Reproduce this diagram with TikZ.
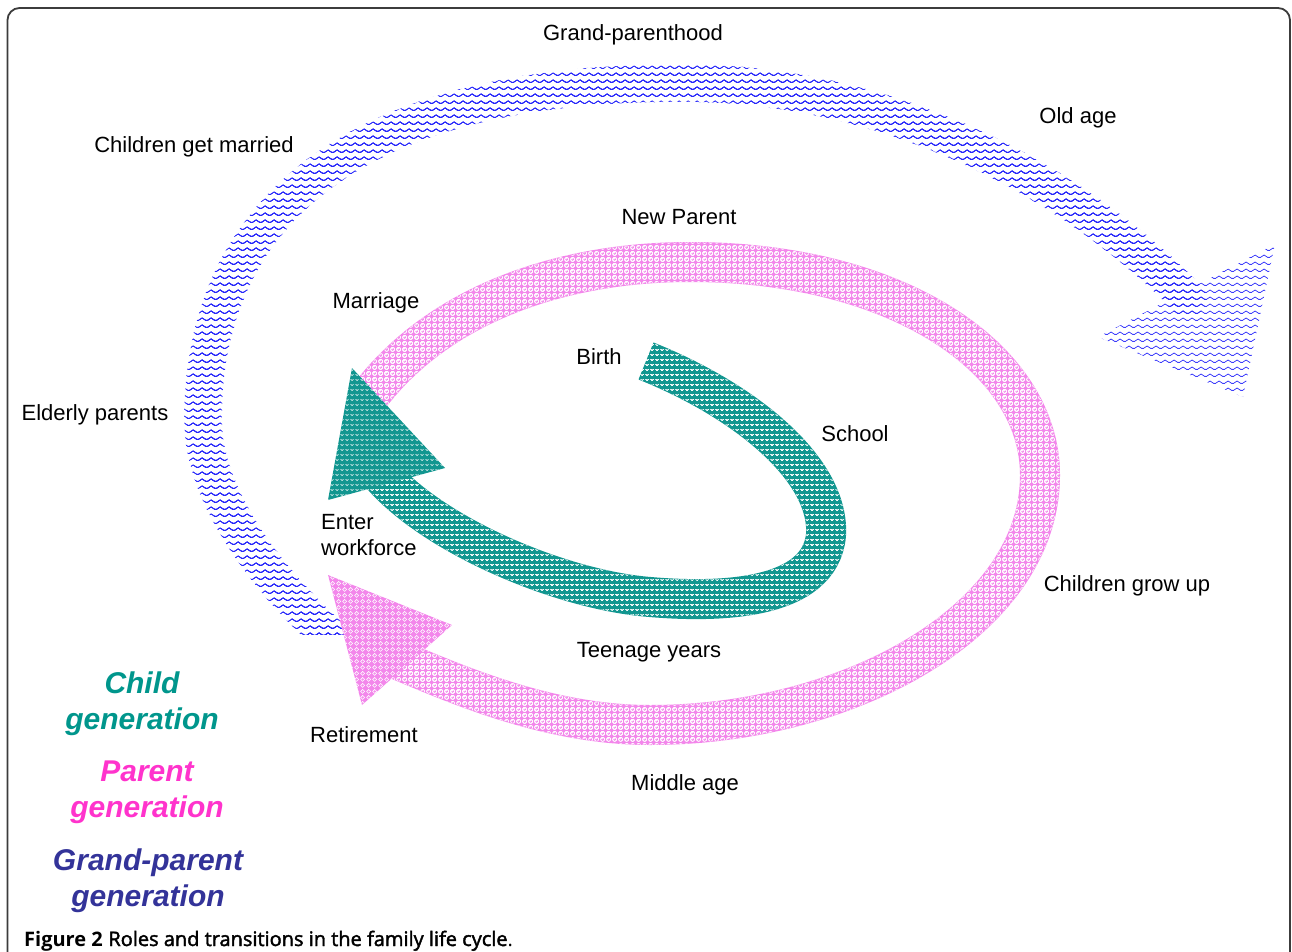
\documentclass[tikz,border=0pt]{standalone}
\usepackage{fontspec}
\setmainfont{Liberation Sans}
\newfontfamily\capfont{Open Sans}
\newfontfamily\capsemi{Open Sans}[FakeBold=2]
\usetikzlibrary{patterns,decorations.markings}

\definecolor{childteal}{RGB}{0,150,140}
\definecolor{tealband}{RGB}{18,150,144}
\definecolor{parentpink}{RGB}{255,51,204}
\definecolor{pinkband}{RGB}{243,135,235}
\definecolor{grandblue}{RGB}{51,51,153}
\definecolor{waveblue}{RGB}{40,40,250}
\definecolor{framegray}{RGB}{60,60,60}

% fill patterns of the three bands
\pgfdeclarepatternformonly{gpwaves}{\pgfqpoint{0pt}{0pt}}{\pgfqpoint{9pt}{7pt}}{\pgfqpoint{9pt}{7pt}}{%
  \pgfsetlinewidth{0.8pt}\pgfsetroundjoin
  \pgfpathmoveto{\pgfqpoint{-4.5pt}{4.5pt}}
  \pgfpathlineto{\pgfqpoint{0pt}{1.5pt}}
  \pgfpathlineto{\pgfqpoint{4.5pt}{4.5pt}}
  \pgfpathlineto{\pgfqpoint{9pt}{1.5pt}}
  \pgfpathlineto{\pgfqpoint{13.5pt}{4.5pt}}
  \pgfusepath{stroke}}
\pgfdeclarepatternformonly{pinkgaps}{\pgfqpoint{0pt}{0pt}}{\pgfqpoint{6pt}{6pt}}{\pgfqpoint{6pt}{6pt}}{%
  \pgfsetlinewidth{0.6pt}
  \pgfpathcircle{\pgfqpoint{3pt}{3pt}}{2.3pt}
  \pgfusepath{stroke}
  \pgfpathcircle{\pgfqpoint{2.3pt}{3.7pt}}{0.6pt}
  \pgfusepath{fill}}
\pgfdeclarepatternformonly{tealweave}{\pgfqpoint{0pt}{0pt}}{\pgfqpoint{5pt}{5pt}}{\pgfqpoint{5pt}{5pt}}{%
  \pgfsetlinewidth{0.7pt}
  \pgfpathmoveto{\pgfqpoint{0.8pt}{3.2pt}}
  \pgfpathlineto{\pgfqpoint{2.5pt}{1.8pt}}
  \pgfpathlineto{\pgfqpoint{4.2pt}{3.2pt}}
  \pgfusepath{stroke}}

\begin{document}
\begin{tikzpicture}[x=1pt, y=-1pt,
    stage/.style={font=\fontsize{22}{26}\selectfont, inner sep=0pt},
    gen/.style={font=\fontsize{30}{36}\selectfont\bfseries\itshape, align=center, inner sep=0pt},
    sweep/.style n args={3}{postaction={decorate, decoration={markings,
        mark=between positions 0 and 1 step 8pt with {\fill[pattern=#1, pattern color=#2] (0,0) circle[radius=#3];}}}}]
\useasboundingbox (0,0) rectangle (1292,952);

% frame
\draw[framegray, line width=1.8pt, rounded corners=12pt] (7.5,980) -- (7.5,8) -- (1290,8) -- (1290,980);

% grand-parent generation
\begin{scope}
\clip (0,0) rectangle (1292,634);
\path[sweep={gpwaves}{waveblue}{19pt}] (345,650) .. controls (258,575) and (203,490) .. (203,420)
    .. controls (203,201) and (370,83) .. (680,83)
    .. controls (935,83) and (1115,222) .. (1190,301);
\end{scope}
\fill[pattern=gpwaves, pattern color=waveblue] (1098,337) -- (1275,244) -- (1243,397) -- cycle;

% parent generation
\draw[pinkband, line width=40pt, sweep={pinkgaps}{white}{20pt}] (365,402) .. controls (435,305) and (560,262) .. (690,262)
    .. controls (900,262) and (1040,360) .. (1040,475)
    .. controls (1040,620) and (850,725) .. (650,725)
    .. controls (550,725) and (460,686) .. (396,659);
\fill[pinkband, postaction={pattern=pinkgaps, pattern color=white}] (328,575) -- (452,625) -- (362,705) -- cycle;

% child generation
\draw[tealband, line width=40pt, sweep={tealweave}{white}{20pt}] (646,361) .. controls (746,401) and (830,470) .. (826,535)
    .. controls (820,600) and (720,603) .. (650,597)
    .. controls (560,590) and (430,534) .. (379,472);
\fill[tealband, postaction={pattern=tealweave, pattern color=white}] (352,368) -- (445,468) -- (328,500) -- cycle;

% stages
\node[stage, anchor=base] (grandparenthood) at (633,41) {Grand-parenthood};
\node[stage, anchor=base] (oldage) at (1078,124) {Old age};
\node[stage, anchor=base] (childrenmarried) at (194,153) {Children get married};
\node[stage, anchor=base] (newparent) at (679,224) {New Parent};
\node[stage, anchor=base] (marriage) at (376,308) {Marriage};
\node[stage, anchor=base] (birth) at (599,364) {Birth};
\node[stage, anchor=base] (school) at (855,441) {School};
\node[stage, anchor=base] (elderly) at (95,420) {Elderly parents};
\node[stage, anchor=west, align=left] (workforce) at (321,535) {Enter\\workforce};
\node[stage, anchor=base] (growup) at (1127,591) {Children grow up};
\node[stage, anchor=base] (teenage) at (649,657) {Teenage years};
\node[stage, anchor=base] (retirement) at (364,742) {Retirement};
\node[stage, anchor=base] (middleage) at (685,790) {Middle age};

% legend
\node[gen, text=childteal] (childgen) at (142,704) {Child\\generation};
\node[gen, text=parentpink] (parentgen) at (147,792) {Parent\\generation};
\node[gen, text=grandblue] (grandgen) at (148,881) {Grand-parent\\generation};

% caption
\node[anchor=base west, inner sep=0pt, font=\fontsize{20}{24}\selectfont] (caption) at (24,946)
    {{\capfont\bfseries Figure 2} {\capsemi Roles and transitions in the family life cycle}{\capfont .}};
\end{tikzpicture}
\end{document}
